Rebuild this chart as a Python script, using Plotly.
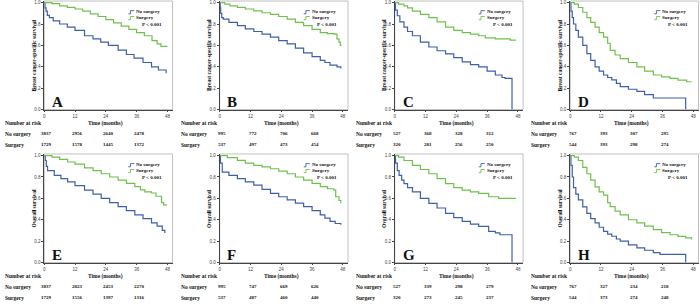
import plotly.graph_objects as go

W, H = 700, 307

letters = ["A", "B", "C", "D", "E", "F", "G", "H"]
y_titles = ["Breast cancer-specific survival"] * 4 + ["Overall survival"] * 4
x_title = "Time (months)"
group_names = ["No surgery", "Surgery"]
p_text = "P < 0.001"
risk_label = "Number at risk"
risk_times = [0, 12, 24, 36]
x_ticks = [0, 12, 24, 36, 48]
y_ticks = [0.0, 0.2, 0.4, 0.6, 0.8, 1.0]
y_ticklabels = ["0.0", "0.2", "0.4", "0.6", "0.8", "1.0"]

# ---- Panel A (breast cancer-specific survival) ----
a_no_t = [0, 0.3, 0.7, 1.2, 2.0, 3.5, 6, 9, 12, 15.7, 19, 22, 25, 28.8, 32, 35, 38.5, 41.8, 44.5, 47.5]
a_no_s = [1.0, 0.95, 0.92, 0.88, 0.86, 0.83, 0.80, 0.77, 0.74, 0.69, 0.66, 0.63, 0.60, 0.555, 0.515, 0.48, 0.44, 0.40, 0.37, 0.34]
a_sg_t = [0, 3, 6, 9, 12, 15, 18, 21, 24, 27, 30, 33, 36, 39, 42, 44, 45.5, 47.8]
a_sg_s = [1.0, 0.99, 0.97, 0.955, 0.94, 0.92, 0.895, 0.87, 0.84, 0.81, 0.78, 0.75, 0.72, 0.69, 0.645, 0.615, 0.59, 0.585]
# ---- Panel B ----
b_no_t = [0, 0.2, 0.4, 0.8, 1.4, 3.6, 6.9, 10, 13.3, 16.5, 19.8, 23, 26.3, 29.5, 32.7, 36, 39.2, 41, 43, 45.7, 47.2]
b_no_s = [1.0, 0.95, 0.9, 0.86, 0.845, 0.815, 0.785, 0.755, 0.73, 0.705, 0.677, 0.645, 0.615, 0.575, 0.53, 0.495, 0.46, 0.44, 0.415, 0.40, 0.385]
b_sg_t = [0, 2, 4, 6.9, 10, 13.3, 16.5, 19.8, 23, 26.3, 29.5, 32.7, 36, 39.2, 42, 44.5, 45.7, 46.5, 47, 47.5]
b_sg_s = [1.0, 0.985, 0.97, 0.955, 0.94, 0.923, 0.905, 0.89, 0.87, 0.846, 0.815, 0.785, 0.75, 0.72, 0.71, 0.705, 0.66, 0.63, 0.60, 0.60]
# ---- Panel C ----
c_no_t = [0, 0.3, 1, 2, 3.6, 5, 6.9, 10, 13.3, 16.5, 19.8, 23, 26.3, 29.5, 32.7, 36, 39.2, 41.8, 43, 45.7]
c_no_s = [1.0, 0.93, 0.877, 0.82, 0.77, 0.73, 0.69, 0.63, 0.585, 0.55, 0.52, 0.485, 0.446, 0.42, 0.40, 0.36, 0.323, 0.30, 0.292, 0.0]
c_sg_t = [0, 1.5, 3.6, 5, 6.9, 10, 13.3, 16.5, 19.8, 23, 26.3, 29.5, 32.7, 35.3, 39.2, 45, 47.2]
c_sg_s = [1.0, 0.985, 0.97, 0.95, 0.92, 0.89, 0.86, 0.82, 0.77, 0.74, 0.72, 0.705, 0.69, 0.67, 0.66, 0.65, 0.65]
# ---- Panel D ----
d_no_t = [0, 0.3, 0.8, 1.3, 2.2, 3.2, 4.9, 6.5, 8, 9.7, 11.3, 13, 14.6, 16.2, 18, 19.5, 22.7, 26, 29, 32.4, 45]
d_no_s = [1.0, 0.92, 0.86, 0.80, 0.74, 0.677, 0.60, 0.523, 0.46, 0.40, 0.36, 0.323, 0.30, 0.277, 0.245, 0.215, 0.19, 0.17, 0.14, 0.108, 0.0]
d_sg_t = [0, 1.6, 3.2, 4.9, 6.5, 8, 9.7, 11.3, 13, 14.6, 15.6, 17.5, 19.5, 22.7, 26, 29, 32.4, 35.6, 38.9, 42, 45.4, 47.3]
d_sg_s = [1.0, 0.985, 0.954, 0.91, 0.86, 0.815, 0.77, 0.72, 0.677, 0.62, 0.554, 0.51, 0.477, 0.44, 0.40, 0.36, 0.323, 0.305, 0.292, 0.275, 0.26, 0.26]
# ---- Panel E (overall survival) ----
e_no_t = [0, 0.4, 0.8, 1.3, 3.9, 6.5, 9.1, 12, 15.7, 19, 22.2, 25.5, 28.8, 32, 35.3, 38.5, 41.8, 44, 46, 47]
e_no_s = [1.0, 0.954, 0.90, 0.86, 0.815, 0.785, 0.754, 0.72, 0.677, 0.64, 0.60, 0.56, 0.523, 0.485, 0.446, 0.41, 0.37, 0.34, 0.30, 0.277]
e_sg_t = [0, 3, 6, 9.1, 12, 15.7, 19, 22.2, 25.5, 28.8, 32, 35.3, 37.5, 39.2, 41.8, 43.5, 45.7, 46.5, 47.8]
e_sg_s = [1.0, 0.985, 0.965, 0.94, 0.92, 0.886, 0.86, 0.83, 0.80, 0.77, 0.74, 0.71, 0.68, 0.66, 0.65, 0.62, 0.56, 0.54, 0.54]
# ---- Panel F ----
f_no_t = [0, 0.3, 1, 3.6, 6.9, 10, 13.3, 16.5, 19.8, 23, 26.3, 29.5, 32.7, 36, 39.2, 41, 43, 45, 47.2]
f_no_s = [1.0, 0.93, 0.846, 0.815, 0.785, 0.755, 0.723, 0.685, 0.646, 0.615, 0.585, 0.555, 0.523, 0.485, 0.446, 0.415, 0.385, 0.365, 0.354]
f_sg_t = [0, 3, 6.9, 10, 13.3, 16.5, 19.8, 23, 26.3, 29.5, 32.7, 36, 39.2, 42, 44.5, 45.2, 46.5, 47.2]
f_sg_s = [1.0, 0.98, 0.955, 0.93, 0.908, 0.895, 0.877, 0.855, 0.83, 0.80, 0.77, 0.74, 0.71, 0.69, 0.677, 0.615, 0.58, 0.554]
# ---- Panel G ----
g_no_t = [0, 0.3, 1, 1.7, 2.7, 3.6, 5, 6.9, 10, 13.3, 16.5, 19.8, 23, 26.3, 29.5, 32.7, 36.6, 39.2, 41, 45.7]
g_no_s = [1.0, 0.93, 0.86, 0.815, 0.77, 0.738, 0.70, 0.66, 0.60, 0.554, 0.51, 0.46, 0.42, 0.385, 0.36, 0.338, 0.292, 0.277, 0.26, 0.0]
g_sg_t = [0, 1.5, 3.6, 6.9, 10, 13.3, 16.5, 19.8, 23, 26.3, 29.5, 32.7, 36.6, 40.5, 47.2]
g_sg_s = [1.0, 0.985, 0.954, 0.908, 0.87, 0.83, 0.785, 0.738, 0.70, 0.677, 0.66, 0.646, 0.615, 0.60, 0.60]
# ---- Panel H ----
h_no_t = [0, 0.3, 0.8, 1.3, 2.2, 3.2, 4.9, 6.5, 8, 9.7, 11.3, 13, 14.6, 16.2, 18, 19.5, 22.7, 26, 29, 32.4, 35, 45]
h_no_s = [1.0, 0.908, 0.80, 0.70, 0.64, 0.585, 0.52, 0.46, 0.41, 0.37, 0.33, 0.292, 0.265, 0.246, 0.22, 0.20, 0.165, 0.138, 0.115, 0.092, 0.077, 0.0]
h_sg_t = [0, 1.6, 3.2, 4.9, 6.5, 8, 9.7, 11.3, 13, 14.6, 15.6, 17.5, 19.5, 22.7, 26, 29, 32.4, 35.6, 38.9, 42, 45, 47.3]
h_sg_s = [1.0, 0.985, 0.954, 0.89, 0.83, 0.77, 0.708, 0.66, 0.63, 0.56, 0.523, 0.48, 0.446, 0.40, 0.37, 0.34, 0.308, 0.28, 0.26, 0.245, 0.23, 0.215]

# ---- Number at risk tables ----
a_risk_no = [3837, 2956, 2640, 2478]
a_risk_sg = [1729, 1578, 1445, 1372]
b_risk_no = [995, 772, 706, 668]
b_risk_sg = [537, 497, 473, 454]
c_risk_no = [527, 368, 328, 312]
c_risk_sg = [320, 281, 256, 250]
d_risk_no = [767, 393, 307, 295]
d_risk_sg = [544, 393, 298, 274]
e_risk_no = [3837, 2823, 2453, 2270]
e_risk_sg = [1729, 1556, 1397, 1316]
f_risk_no = [995, 747, 669, 626]
f_risk_sg = [537, 487, 460, 440]
g_risk_no = [527, 339, 298, 279]
g_risk_sg = [320, 273, 245, 237]
h_risk_no = [767, 327, 234, 218]
h_risk_sg = [544, 373, 274, 248]

curves = [
    (a_no_t, a_no_s, a_sg_t, a_sg_s), (b_no_t, b_no_s, b_sg_t, b_sg_s),
    (c_no_t, c_no_s, c_sg_t, c_sg_s), (d_no_t, d_no_s, d_sg_t, d_sg_s),
    (e_no_t, e_no_s, e_sg_t, e_sg_s), (f_no_t, f_no_s, f_sg_t, f_sg_s),
    (g_no_t, g_no_s, g_sg_t, g_sg_s), (h_no_t, h_no_s, h_sg_t, h_sg_s),
]
risks = [
    (a_risk_no, a_risk_sg), (b_risk_no, b_risk_sg), (c_risk_no, c_risk_sg), (d_risk_no, d_risk_sg),
    (e_risk_no, e_risk_sg), (f_risk_no, f_risk_sg), (g_risk_no, g_risk_sg), (h_risk_no, h_risk_sg),
]

# ---- styling / layout ----
BLUE = "#3f5fa8"
GREEN = "#70c04c"
SERIF = "Liberation Serif"
SANS = "Liberation Sans"
col_x0 = [43.3, 219.0, 394.3, 570.0]   # px of month 0
plot_w = 128.5                           # px for range 0..50
row_top = [0.0, 155.0]
plot_h = 110.0
XMAX = 50
YMAX = 1.015

fig = go.Figure()
layout = dict(
    width=W, height=H, margin=dict(l=0, r=0, t=0, b=0),
    paper_bgcolor="white", plot_bgcolor="white", showlegend=False,
)
annotations = []
shapes = []

def px_x(p):
    return p / W

def px_y(p):
    return 1 - p / H

for k in range(8):
    r, c = divmod(k, 4)
    n = k + 1
    xs = "" if n == 1 else str(n)
    xa, ya = "x" + xs, "y" + xs
    x0 = col_x0[c]
    yt = row_top[r]
    layout["xaxis" + xs] = dict(
        domain=[px_x(x0), px_x(x0 + plot_w)], range=[0, XMAX], anchor=ya,
        tickvals=x_ticks, ticks="outside", ticklen=2, tickwidth=0.7, tickcolor="#444",
        showline=True, linecolor="#444", linewidth=0.8, showgrid=False, zeroline=False,
        tickfont=dict(family=SANS, size=4.5, color="#444"), fixedrange=True,
    )
    layout["yaxis" + xs] = dict(
        domain=[px_y(yt + plot_h), px_y(yt)], range=[0, YMAX], anchor=xa,
        tickvals=y_ticks, ticktext=y_ticklabels, ticks="outside", ticklen=2, tickwidth=0.7,
        tickcolor="#444", showline=True, linecolor="#444", linewidth=0.8,
        showgrid=False, zeroline=False,
        tickfont=dict(family=SANS, size=4.5, color="#444"), fixedrange=True,
    )
    # plot frame
    shapes.append(dict(type="rect", xref=xa + " domain", yref=ya + " domain",
                       x0=0, x1=1, y0=0, y1=1, line=dict(color="#b0b0b0", width=0.8),
                       layer="below"))
    nt, ns, st, ss = curves[k]
    fig.add_trace(go.Scatter(x=nt, y=ns, mode="lines", line=dict(color=BLUE, width=1.2, shape="hv"),
                             xaxis=xa, yaxis=ya, name=group_names[0]))
    fig.add_trace(go.Scatter(x=st, y=ss, mode="lines", line=dict(color=GREEN, width=1.2, shape="hv"),
                             xaxis=xa, yaxis=ya, name=group_names[1]))
    # legend (inside top-right)
    leg_y = [0.913, 0.858]
    for gi, (gname, col) in enumerate(zip(group_names, [BLUE, GREEN])):
        yy = leg_y[gi]
        shapes.append(dict(type="path", xref=xa + " domain", yref=ya,
                           path=f"M 0.655,{yy - 0.018} L 0.672,{yy - 0.018} L 0.672,{yy + 0.012} L 0.702,{yy + 0.012}",
                           line=dict(color=col, width=0.9)))
        annotations.append(dict(text="<b>" + gname + "</b>", xref=xa + " domain", yref=ya,
                                x=0.70, y=yy, xanchor="left", yanchor="middle", showarrow=False,
                                font=dict(family=SERIF, size=5, color="#111")))
    annotations.append(dict(text="<b>" + p_text + "</b>", xref=xa + " domain", yref=ya,
                            x=0.84, y=0.798, xanchor="center", yanchor="middle", showarrow=False,
                            font=dict(family=SERIF, size=5, color="#111")))
    # panel letter
    annotations.append(dict(text="<b>" + letters[k] + "</b>", xref=xa + " domain", yref=ya + " domain",
                            x=0.045, y=-0.02, xanchor="left", yanchor="bottom", showarrow=False,
                            font=dict(family=SERIF, size=15, color="#111")))
    # y title
    annotations.append(dict(text="<b>" + y_titles[k] + "</b>", xref="paper", yref=ya + " domain",
                            x=px_x(x0 - 10), y=0.5, xanchor="center", yanchor="middle",
                            textangle=-90, showarrow=False,
                            font=dict(family=SERIF, size=5.5, color="#111")))
    # x title
    annotations.append(dict(text="<b>" + x_title + "</b>", xref=xa, yref="paper",
                            x=24, y=px_y(yt + 124), xanchor="center", yanchor="middle",
                            showarrow=False, font=dict(family=SERIF, size=5.5, color="#111")))
    # number at risk table
    lab_x = px_x(x0 - 41)
    row_ys = [yt + 124, yt + 134.5, yt + 145.5]
    annotations.append(dict(text="<b>" + risk_label + "</b>", xref="paper", yref="paper",
                            x=lab_x, y=px_y(row_ys[0]), xanchor="left", yanchor="middle",
                            showarrow=False, font=dict(family=SERIF, size=5.5, color="#111")))
    for gi in range(2):
        annotations.append(dict(text="<b>" + group_names[gi] + "</b>", xref="paper", yref="paper",
                                x=lab_x, y=px_y(row_ys[gi + 1]), xanchor="left", yanchor="middle",
                                showarrow=False, font=dict(family=SERIF, size=5.5, color="#111")))
        for t, v in zip(risk_times, risks[k][gi]):
            annotations.append(dict(text="<b>" + str(v) + "</b>", xref=xa, yref="paper",
                                    x=t + 1, y=px_y(row_ys[gi + 1]), xanchor="center", yanchor="middle",
                                    showarrow=False, font=dict(family=SERIF, size=5, color="#111")))

layout["annotations"] = annotations
layout["shapes"] = shapes
fig.update_layout(**layout)
fig.write_html("out.html", config={"displayModeBar": False},
               post_script="document.body.style.margin='0';document.body.style.padding='0';")
